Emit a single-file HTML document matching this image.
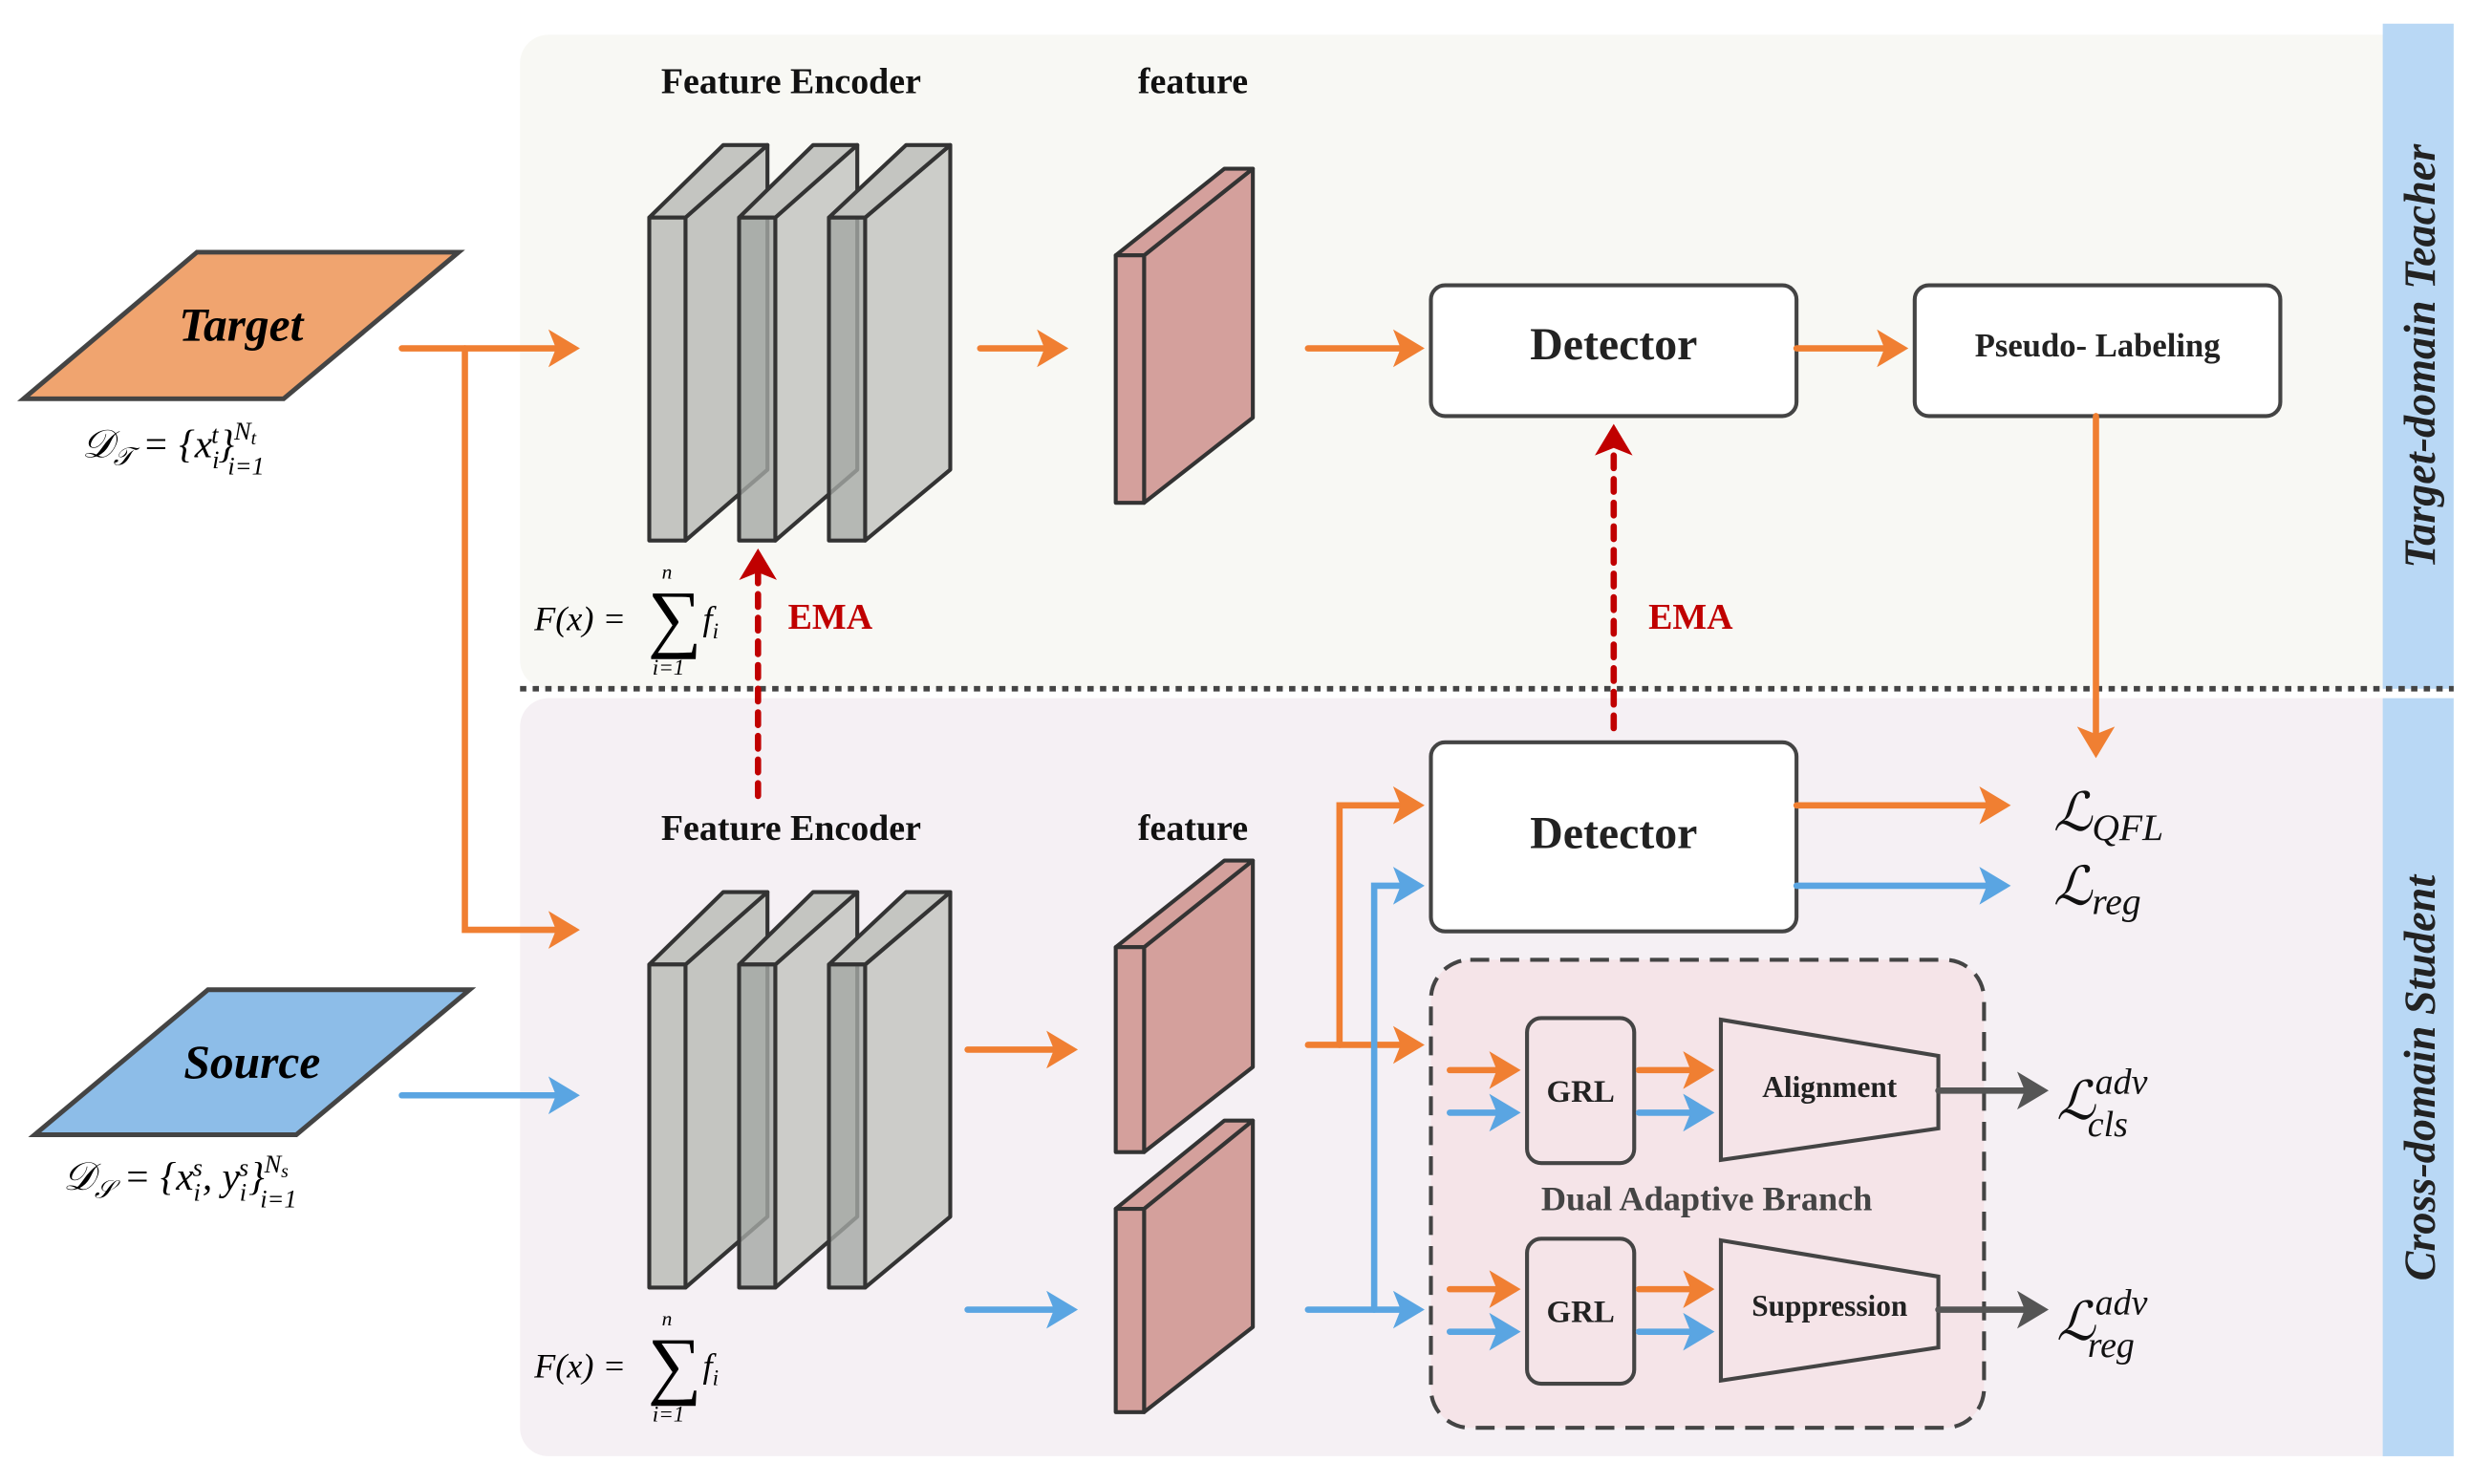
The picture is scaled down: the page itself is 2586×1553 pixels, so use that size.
<!DOCTYPE html>
<html><head><meta charset="utf-8"><style>html,body{margin:0;padding:0;background:#fff}svg{display:block}</style></head><body>
<svg width="2586" height="1553" viewBox="0 0 1568 941.6" xmlns="http://www.w3.org/2000/svg" font-family="Liberation Serif, serif">
<defs>
<marker id="ao" markerWidth="6" markerHeight="6" refX="4" refY="3" orient="auto" markerUnits="strokeWidth"><path d="M0,0 L5,3 L0,6 L1.2,3 z" fill="#f07f32"/></marker>
<marker id="ab" markerWidth="6" markerHeight="6" refX="4" refY="3" orient="auto" markerUnits="strokeWidth"><path d="M0,0 L5,3 L0,6 L1.2,3 z" fill="#5aa5e2"/></marker>
<marker id="ag" markerWidth="6" markerHeight="6" refX="4" refY="3" orient="auto" markerUnits="strokeWidth"><path d="M0,0 L5,3 L0,6 L1.2,3 z" fill="#555"/></marker>
<marker id="ar" markerWidth="6" markerHeight="6" refX="4" refY="3" orient="auto" markerUnits="strokeWidth"><path d="M0,0 L5,3 L0,6 L1.2,3 z" fill="#c00000"/></marker>
</defs>
<rect x="330" y="22" width="1200" height="415" rx="18" fill="#f8f8f4"/>
<rect x="330" y="443" width="1200" height="481" rx="18" fill="#f5f0f4"/>
<rect x="1512" y="15" width="45" height="422" fill="#b9d8f5"/>
<rect x="1512" y="443" width="45" height="481" fill="#b9d8f5"/>
<line x1="330" y1="437" x2="1557" y2="437" stroke="#444" stroke-width="3.5" stroke-dasharray="4,4"/>
<text transform="translate(1545,226) rotate(-90)" text-anchor="middle" font-size="28" font-weight="bold" font-style="italic" fill="#222">Target-domain Teacher</text>
<text transform="translate(1545,684) rotate(-90)" text-anchor="middle" font-size="28" font-weight="bold" font-style="italic" fill="#222">Cross-domain Student</text>

<polygon points="15,253 125,160 291,160 180,253" fill="#f0a46f" stroke="#444" stroke-width="3"/>
<text x="153" y="216" text-anchor="middle" font-size="30" font-weight="bold" font-style="italic">Target</text>
<polygon points="22,720 132,628 298,628 188,720" fill="#8dbde8" stroke="#444" stroke-width="3"/>
<text x="160" y="684" text-anchor="middle" font-size="30" font-weight="bold" font-style="italic">Source</text>
<text x="52" y="290" font-size="25" font-style="italic">𝒟<tspan font-size="16" dy="5">𝒯</tspan><tspan dy="-5"> = {x</tspan><tspan font-size="16" dy="7">i</tspan><tspan font-size="16" dx="-5" dy="-16">t</tspan><tspan dy="9">}</tspan><tspan font-size="16" dy="-11">N</tspan><tspan font-size="12" dy="3">t</tspan><tspan font-size="16" dx="-18" dy="19">i=1</tspan></text>
<text x="40" y="755" font-size="25" font-style="italic">𝒟<tspan font-size="16" dy="5">𝒮</tspan><tspan dy="-5"> = {x</tspan><tspan font-size="16" dy="7">i</tspan><tspan font-size="16" dx="-5" dy="-16">s</tspan><tspan dy="9">, y</tspan><tspan font-size="16" dy="7">i</tspan><tspan font-size="16" dx="-5" dy="-16">s</tspan><tspan dy="9">}</tspan><tspan font-size="16" dy="-11">N</tspan><tspan font-size="12" dy="3">s</tspan><tspan font-size="16" dx="-18" dy="19">i=1</tspan></text>

<g font-size="23" font-weight="bold" text-anchor="middle" fill="#111">
<text x="502" y="59">Feature Encoder</text><text x="757" y="59">feature</text>
<text x="502" y="533">Feature Encoder</text><text x="757" y="533">feature</text>
</g>

<g stroke="#333" stroke-width="2.5" stroke-linejoin="round">
<g id="enc">
<polygon points="435,138 487,92 487,298 435,343" fill="#c4c5c1"/><polygon points="412,138 459,92 487,92 435,138" fill="#c4c5c1"/><rect x="412" y="138" width="23" height="205" fill="#c4c5c1"/>
<polygon points="492,138 544,92 544,298 492,343" fill="#c4c5c1" fill-opacity="0.85"/><polygon points="469,138 516,92 544,92 492,138" fill="#c4c5c1"/><rect x="469" y="138" width="23" height="205" fill="#a4a7a4" fill-opacity="0.8"/>
<polygon points="549,138 603,92 603,298 549,343" fill="#c4c5c1" fill-opacity="0.85"/><polygon points="526,138 575,92 603,92 549,138" fill="#c4c5c1"/><rect x="526" y="138" width="23" height="205" fill="#a4a7a4" fill-opacity="0.8"/>
</g>
<use href="#enc" transform="translate(0,474)" />
<polygon points="726,162 795,107 795,265 726,319" fill="#d4a09c"/><polygon points="708,162 777,107 795,107 726,162" fill="#d4a09c"/><rect x="708" y="162" width="18" height="157" fill="#d4a09c"/>
<polygon points="726,601 795,546 795,677 726,731" fill="#d4a09c"/><polygon points="708,601 777,546 795,546 726,601" fill="#d4a09c"/><rect x="708" y="601" width="18" height="130" fill="#d4a09c"/>
<polygon points="726,767 795,711 795,842 726,896" fill="#d4a09c"/><polygon points="708,767 777,711 795,711 726,767" fill="#d4a09c"/><rect x="708" y="767" width="18" height="129" fill="#d4a09c"/>
</g>

<text x="339" y="400" font-size="22" font-style="italic">F(x) = </text><text x="411" y="408" font-size="48">∑</text><text x="420" y="367" font-size="13" font-style="italic">n</text><text x="414" y="428" font-size="14" font-style="italic">i=1</text><text x="446" y="400" font-size="22" font-style="italic">f<tspan font-size="14" dy="5">i</tspan></text>
<text x="339" y="874" font-size="22" font-style="italic">F(x) = </text><text x="411" y="882" font-size="48">∑</text><text x="420" y="841" font-size="13" font-style="italic">n</text><text x="414" y="902" font-size="14" font-style="italic">i=1</text><text x="446" y="874" font-size="22" font-style="italic">f<tspan font-size="14" dy="5">i</tspan></text>
<text x="500" y="399" font-size="23" font-weight="bold" fill="#c00000">EMA</text>
<text x="1046" y="399" font-size="23" font-weight="bold" fill="#c00000">EMA</text>

<g fill="#fff" stroke="#444" stroke-width="2.5">
<rect x="908" y="181" width="232" height="83" rx="9"/>
<rect x="1215" y="181" width="232" height="83" rx="9"/>
<rect x="908" y="471" width="232" height="120" rx="9"/>
</g>
<rect x="908" y="609" width="351" height="297" rx="25" fill="#f5e4e8" stroke="#444" stroke-width="2.5" stroke-dasharray="12,7"/>
<g fill="#f5e4e8" stroke="#444" stroke-width="2.5">
<rect x="969" y="646" width="68" height="92" rx="9"/><rect x="969" y="786" width="68" height="92" rx="9"/>
<polygon points="1092,647 1230,670 1230,716 1092,736"/><polygon points="1092,787 1230,810 1230,855 1092,876"/>
</g>
<g font-weight="bold" text-anchor="middle" fill="#222">
<text x="1024" y="228" font-size="29">Detector</text>
<text x="1331" y="226" font-size="21">Pseudo- Labeling</text>
<text x="1024" y="538" font-size="29">Detector</text>
<text x="1003" y="699" font-size="20">GRL</text><text x="1003" y="839" font-size="20">GRL</text>
<text x="1161" y="696" font-size="19">Alignment</text><text x="1161" y="835" font-size="19">Suppression</text>
<text x="1083" y="768" font-size="22" fill="#444">Dual Adaptive Branch</text>
</g>

<g fill="none" stroke-width="4" stroke-linecap="round">
<g stroke="#f07f32" marker-end="url(#ao)">
<line x1="255" y1="221" x2="364" y2="221"/>
<polyline points="295,221 295,590 364,590"/>
<line x1="622" y1="221" x2="674" y2="221"/>
<line x1="830" y1="221" x2="900" y2="221"/>
<line x1="1140" y1="221" x2="1207" y2="221"/>
<line x1="1330" y1="264" x2="1330" y2="477"/>
<line x1="614" y1="666" x2="680" y2="666"/>
<line x1="830" y1="663" x2="900" y2="663"/>
<polyline points="850,663 850,511 900,511"/>
<line x1="1140" y1="511" x2="1272" y2="511"/>
<line x1="920" y1="679" x2="961" y2="679"/><line x1="1040" y1="679" x2="1084" y2="679"/>
<line x1="920" y1="818" x2="961" y2="818"/><line x1="1040" y1="818" x2="1084" y2="818"/>
</g>
<g stroke="#5aa5e2" marker-end="url(#ab)">
<line x1="255" y1="695" x2="364" y2="695"/>
<line x1="614" y1="831" x2="680" y2="831"/>
<line x1="830" y1="831" x2="900" y2="831"/>
<polyline points="872,831 872,562 900,562"/>
<line x1="1140" y1="562" x2="1272" y2="562"/>
<line x1="920" y1="706" x2="961" y2="706"/><line x1="1040" y1="706" x2="1084" y2="706"/>
<line x1="920" y1="845" x2="961" y2="845"/><line x1="1040" y1="845" x2="1084" y2="845"/>
</g>
<g stroke="#555" marker-end="url(#ag)">
<line x1="1230" y1="692" x2="1296" y2="692"/><line x1="1230" y1="831" x2="1296" y2="831"/>
</g>
<g stroke="#c00000" stroke-dasharray="8,7" marker-end="url(#ar)">
<line x1="481" y1="505" x2="481" y2="352"/>
<line x1="1024" y1="462" x2="1024" y2="273"/>
</g>
</g>

<g font-style="italic" font-size="34" fill="#111">
<text x="1303" y="527">ℒ<tspan font-size="24" dy="6">QFL</tspan></text>
<text x="1303" y="574">ℒ<tspan font-size="24" dy="6">reg</tspan></text>
<text x="1305" y="710">ℒ<tspan font-size="23" dy="-16">adv</tspan><tspan font-size="23" dx="-38" dy="27">cls</tspan></text>
<text x="1305" y="850">ℒ<tspan font-size="23" dy="-16">adv</tspan><tspan font-size="23" dx="-38" dy="27">reg</tspan></text>
</g>
</svg>
</body></html>
